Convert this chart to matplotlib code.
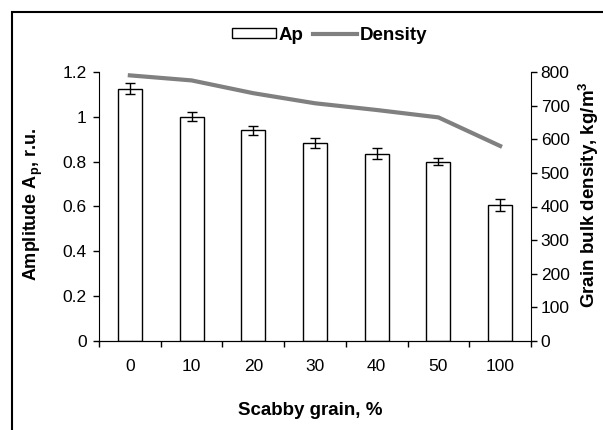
import matplotlib.pyplot as plt
import numpy as np
from matplotlib.patches import Rectangle
from matplotlib.lines import Line2D

plt.rcParams['font.family'] = ['Liberation Sans', 'DejaVu Sans']

# data
categories = ['0', '10', '20', '30', '40', '50', '100']
amplitude = [1.125, 1.0, 0.94, 0.885, 0.835, 0.80, 0.605]
amplitude_err = [0.025, 0.02, 0.02, 0.022, 0.025, 0.015, 0.027]
density = [790, 775, 737, 707, 687, 665, 580]

fig = plt.figure(figsize=(6.03, 4.3), dpi=100)
ax = fig.add_axes([99/603, 1 - 341/430, 432/603, 269/430])

x = np.arange(len(categories))
ax.bar(x, amplitude, width=0.39, facecolor='white', edgecolor='black',
       linewidth=1.0, zorder=2)
ax.errorbar(x, amplitude, yerr=amplitude_err, fmt='none', ecolor='black',
            elinewidth=1.0, capsize=3.5, capthick=1.0, zorder=3)

ax.set_xlim(-0.5, len(categories) - 0.5)
ax.set_ylim(0, 1.2)
ax.set_yticks(np.arange(0, 1.21, 0.2))
ax.set_yticklabels(['0', '0.2', '0.4', '0.6', '0.8', '1', '1.2'])
ax.set_xticks(x)
ax.set_xticklabels(categories)
ax.set_xticks(np.arange(-0.5, len(categories)), minor=True)
ax.tick_params(axis='x', which='major', length=0, pad=13, labelsize=12.5)
ax.tick_params(axis='x', which='minor', length=4, width=1, direction='out')
ax.tick_params(axis='y', length=4, width=1, direction='out', labelsize=12.5, pad=5)
ax.spines['top'].set_visible(False)
ax.spines['right'].set_visible(False)
ax.set_xlabel('Scabby grain, %', fontsize=13.5, fontweight='bold', va='center')
ax.xaxis.set_label_coords(0.49, -0.257)
ax.set_ylabel('Amplitude A$_\\mathregular{p}$, r.u.', fontsize=13,
              fontweight='bold', va='center')
ax.yaxis.set_label_coords(-0.153, 0.506)

ax2 = ax.twinx()
ax2.plot(x, density, color='#808080', linewidth=3, zorder=4)
ax2.set_ylim(0, 800)
ax2.set_yticks(np.arange(0, 801, 100))
ax2.tick_params(axis='y', length=4, width=1, direction='out', labelsize=12.5, pad=3)
ax2.spines['top'].set_visible(False)
ax2.spines['left'].set_visible(False)
ax2.set_ylabel('Grain bulk density, kg/m$^\\mathregular{3}$', fontsize=13.5,
               fontweight='bold', va='center', rotation=90)
ax2.yaxis.set_label_coords(1.133, 0.543)

handles = [Rectangle((0, 0), 1, 1, facecolor='white', edgecolor='black', linewidth=1),
           Line2D([0], [0], color='#808080', linewidth=3)]
fig.legend(handles, ['Ap', 'Density'], loc='center', bbox_to_anchor=(329.5/603, 1 - 35/430),
           ncol=2, frameon=False, prop={'weight': 'bold', 'size': 13.5},
           handlelength=2.35, handleheight=0.43, handletextpad=0.12, columnspacing=0.55)

# outer frame around the chart (cut off on the right and bottom)
fig.patches.append(Rectangle((12/603, -0.1), 1.2, 1.1 - 12/430, transform=fig.transFigure,
                             fill=False, edgecolor='black', linewidth=1.5))

fig.savefig('out.png', dpi=100)
